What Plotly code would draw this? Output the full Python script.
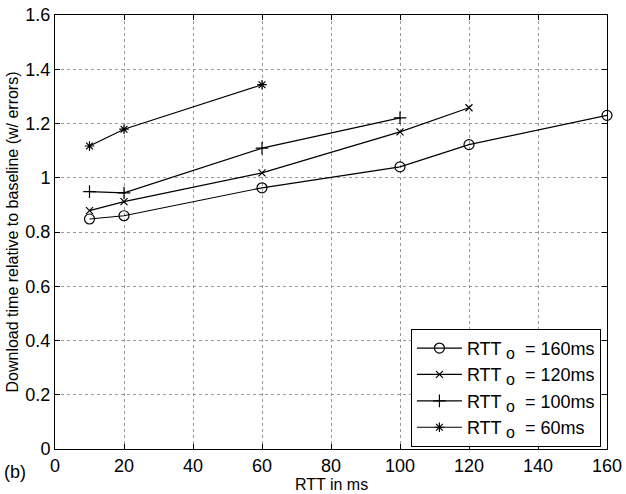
import plotly.graph_objects as go

x_160 = [10, 20, 60, 100, 120, 160]
y_160 = [0.848, 0.860, 0.963, 1.040, 1.122, 1.230]
x_120 = [10, 20, 60, 100, 120]
y_120 = [0.879, 0.912, 1.018, 1.169, 1.258]
x_100 = [10, 20, 60, 100]
y_100 = [0.949, 0.944, 1.109, 1.221]
x_60 = [10, 20, 60]
y_60 = [1.117, 1.179, 1.343]

sub = "<sub><span style='font-size:16px'> o</span></sub>"
names = ["RTT" + sub + "  = 160ms", "RTT" + sub + "  = 120ms",
         "RTT" + sub + "  = 100ms", "RTT" + sub + "  = 60ms"]
xtick = [0, 20, 40, 60, 80, 100, 120, 140, 160]
ytick = [0, 0.2, 0.4, 0.6, 0.8, 1, 1.2, 1.4, 1.6]
ytick_text = ["0", "0.2", "0.4", "0.6", "0.8", "1", "1.2", "1.4", "1.6"]

series = [
    (x_160, y_160, "circle-open", 10),
    (x_120, y_120, "x-thin-open", 7),
    (x_100, y_100, "cross-thin-open", 9),
    (x_60, y_60, "asterisk-open", 8),
]

fig = go.Figure()
for (xs, ys, sym, sz), nm in zip(series, names):
    fig.add_trace(go.Scatter(
        x=xs, y=ys, mode="lines+markers", name=nm,
        line=dict(color="black", width=1.2),
        marker=dict(symbol=sym, size=sz, color="black",
                    line=dict(color="black", width=1.2)),
        cliponaxis=False,
    ))

fam = "Liberation Sans, Arial, sans-serif"
tickfont = dict(family=fam, size=18, color="black")
titlefont = dict(family=fam, size=16, color="black")
common = dict(showline=True, mirror="ticks", linecolor="black", linewidth=1,
              ticks="inside", ticklen=5, tickcolor="black", showgrid=True,
              gridcolor="#999", griddash="dot", gridwidth=1, zeroline=False,
              automargin=False, tickfont=tickfont, ticklabeloverflow="allow")
fig.update_layout(
    width=626, height=494,
    margin=dict(l=55, r=19, t=15, b=45),
    paper_bgcolor="white", plot_bgcolor="white",
    font=dict(family=fam, size=16, color="black"),
    showlegend=True,
    legend=dict(x=0.989, y=0.005, xanchor="right", yanchor="bottom",
                bgcolor="white", bordercolor="black", borderwidth=1,
                font=dict(family=fam, size=18, color="black"),
                tracegroupgap=0, itemwidth=45),
    xaxis=dict(range=[0, 160], tickvals=xtick, ticklabelstandoff=0, **common),
    yaxis=dict(range=[0, 1.6], tickvals=ytick, ticktext=ytick_text,
               ticklabelstandoff=0,
               title=dict(text="Download time relative to baseline (w/ errors)",
                          font=titlefont, standoff=2),
               **common),
)
fig.add_annotation(text="RTT in ms", x=0.5, y=-0.082, xref="paper", yref="paper",
                   xanchor="center", yanchor="middle", showarrow=False,
                   font=titlefont)
fig.add_annotation(text="(b)", x=0, y=0, xref="paper", yref="paper",
                   xanchor="left", yanchor="top", xshift=-53, yshift=-11,
                   showarrow=False, font=tickfont)
fig.write_html("out.html", config={"displayModeBar": False},
               post_script="document.body.style.margin='0';document.body.style.padding='0';")
